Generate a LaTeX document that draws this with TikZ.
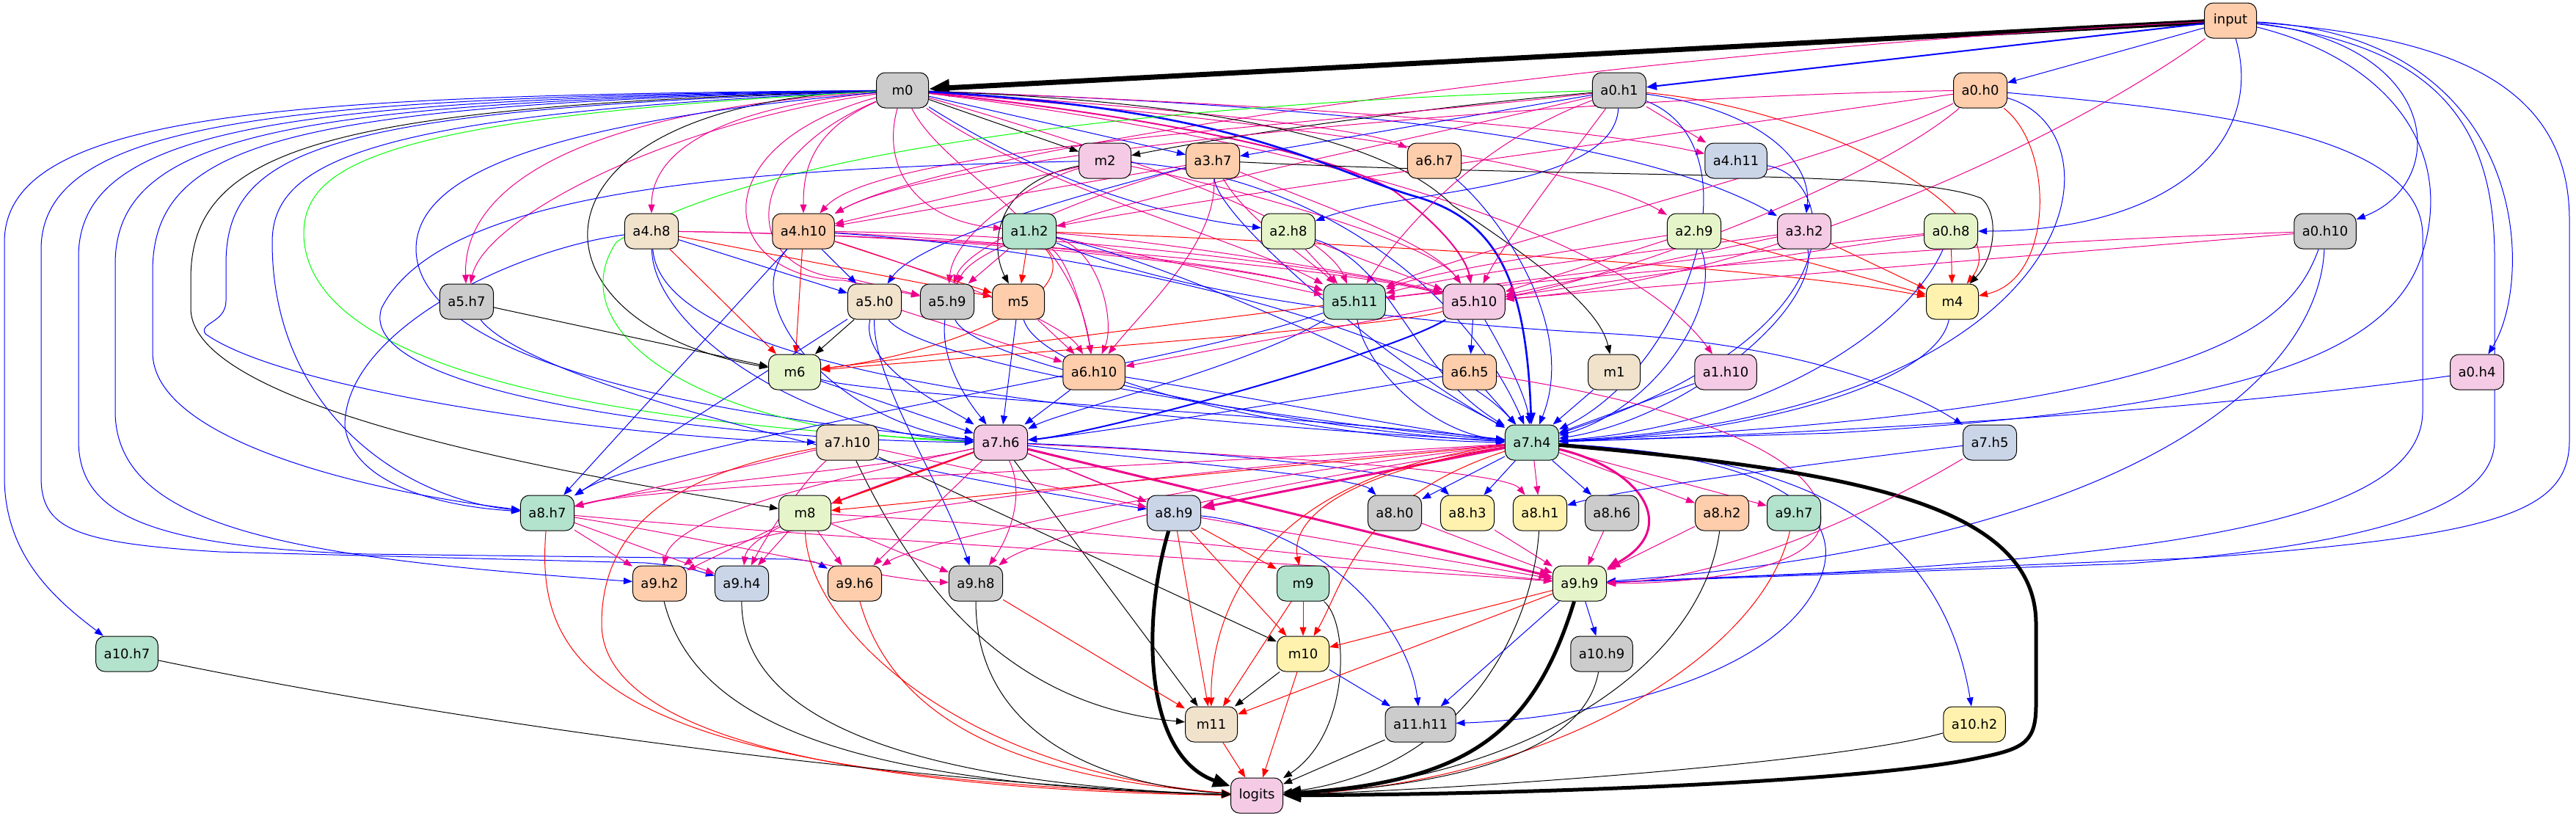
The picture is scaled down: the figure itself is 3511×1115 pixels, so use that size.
\documentclass[tikz,border=0pt]{standalone}
\usepackage{fontspec}
\setmainfont{DejaVu Sans}
\usetikzlibrary{arrows.meta}
\definecolor{cgray}{HTML}{CCCCCC}
\definecolor{cpeach}{HTML}{FDCDAC}
\definecolor{cmint}{HTML}{B3E2CD}
\definecolor{cblue}{HTML}{CBD5E8}
\definecolor{cpink}{HTML}{F4CAE4}
\definecolor{cgreen}{HTML}{E6F5C9}
\definecolor{cyellow}{HTML}{FFF2AE}
\definecolor{cbeige}{HTML}{F1E2CC}
\pgfdeclarelayer{bg}
\pgfsetlayers{bg,main}
\tikzset{
  nd/.style={draw=black, line width=0.5pt, rounded corners=6pt, minimum width=35.5pt, minimum height=24pt, inner xsep=5.5pt, inner ysep=0pt, font=\fontsize{9pt}{10pt}\selectfont},
  ar/.style={line width=0.5pt, -{Triangle[length=6pt,width=4.5pt]}},
  bl/.style={ar, blue},
  mg/.style={ar, magenta},
  rd/.style={ar, red},
  bk/.style={ar, black},
  gr/.style={ar, green},
  tk/.style={line width=2.5pt, -{Triangle[length=12pt,width=9pt]}},
  tm/.style={line width=1.5pt, -{Triangle[length=9pt,width=7pt]}},
  tone/.style={line width=1pt, -{Triangle[length=7pt,width=5.5pt]}}
}
\newcommand\mynode[5]{\node[nd,fill=#4] (#1) at (#2,#3) {#5};}
\begin{document}
\begin{tikzpicture}[x=0.5pt,y=-0.5pt]
\useasboundingbox (0,0) rectangle (3511,1115);
\mynode{input}{3040}{28}{cpeach}{input}
\mynode{m0}{1230}{123}{cgray}{m0}
\mynode{a0h1}{2207}{123}{cgray}{a0.h1}
\mynode{a0h0}{2699}{123}{cpeach}{a0.h0}
\mynode{m2}{1506}{219}{cpink}{m2}
\mynode{a3h7}{1653}{219}{cpeach}{a3.h7}
\mynode{a6h7}{1955}{219}{cpeach}{a6.h7}
\mynode{a4h11}{2366}{219}{cblue}{a4.h11}
\mynode{a4h8}{888}{315}{cbeige}{a4.h8}
\mynode{a4h10}{1095}{315}{cpeach}{a4.h10}
\mynode{a1h2}{1403}{315}{cmint}{a1.h2}
\mynode{a2h8}{1756}{315}{cgreen}{a2.h8}
\mynode{a2h9}{2309}{315}{cgreen}{a2.h9}
\mynode{a3h2}{2459}{315}{cpink}{a3.h2}
\mynode{a0h8}{2659}{315}{cgreen}{a0.h8}
\mynode{a0h10}{3169}{315}{cgray}{a0.h10}
\mynode{a5h7}{636}{411}{cgray}{a5.h7}
\mynode{a5h0}{1192}{411}{cbeige}{a5.h0}
\mynode{a5h9}{1291}{411}{cgray}{a5.h9}
\mynode{m5}{1388}{411}{cpeach}{m5}
\mynode{a5h11}{1846}{411}{cmint}{a5.h11}
\mynode{a5h10}{2009}{411}{cpink}{a5.h10}
\mynode{m4}{2661}{411}{cyellow}{m4}
\mynode{m6}{1083}{507}{cgreen}{m6}
\mynode{a6h10}{1491}{507}{cpeach}{a6.h10}
\mynode{a6h5}{2003}{507}{cpeach}{a6.h5}
\mynode{m1}{2200}{507}{cbeige}{m1}
\mynode{a1h10}{2352}{507}{cpink}{a1.h10}
\mynode{a0h4}{3376}{507}{cpink}{a0.h4}
\mynode{a7h10}{1155}{603}{cbeige}{a7.h10}
\mynode{a7h6}{1364}{603}{cpink}{a7.h6}
\mynode{a7h4}{2088}{603}{cmint}{a7.h4}
\mynode{a7h5}{2712}{603}{cblue}{a7.h5}
\mynode{a8h7}{746}{699}{cmint}{a8.h7}
\mynode{m8}{1097}{699}{cgreen}{m8}
\mynode{a8h9}{1600}{699}{cblue}{a8.h9}
\mynode{a8h0}{1901}{699}{cgray}{a8.h0}
\mynode{a8h3}{2000}{699}{cyellow}{a8.h3}
\mynode{a8h1}{2099}{699}{cyellow}{a8.h1}
\mynode{a8h6}{2197}{699}{cgray}{a8.h6}
\mynode{a8h2}{2347}{699}{cpeach}{a8.h2}
\mynode{a9h7}{2445}{699}{cmint}{a9.h7}
\mynode{a9h2}{899}{795}{cpeach}{a9.h2}
\mynode{a9h4}{1011}{795}{cblue}{a9.h4}
\mynode{a9h6}{1165}{795}{cpeach}{a9.h6}
\mynode{a9h8}{1330}{795}{cgray}{a9.h8}
\mynode{m9}{1776}{795}{cmint}{m9}
\mynode{a9h9}{2153}{795}{cgreen}{a9.h9}
\mynode{a10h7}{173}{891}{cmint}{a10.h7}
\mynode{m10}{1776}{891}{cyellow}{m10}
\mynode{a10h9}{2183}{891}{cgray}{a10.h9}
\mynode{m11}{1651}{987}{cbeige}{m11}
\mynode{a11h11}{1936}{987}{cgray}{a11.h11}
\mynode{a10h2}{2691}{987}{cyellow}{a10.h2}
\mynode{logits}{1713}{1084}{cpink}{logits}

\begin{pgfonlayer}{bg}
% input
\draw[bk,line width=3.5pt,-{Triangle[length=14pt,width=11pt]}] (input) -- (m0);
\draw[bl,tone] (input) -- (a0h1);
\draw[bl] (input) -- (a0h0);
\draw[bl] (input) .. controls (3090,200) and (2950,315) .. (a0h8);
\draw[bl] (input) .. controls (3330,60) and (3340,250) .. (a0h10);
\draw[bl] (input) .. controls (3450,50) and (3455,380) .. (a0h4);
\draw[bl] (input) .. controls (3350,50) and (3502,120) .. (3502,300) -- (3502,600) .. controls (3502,700) and (3400,730) .. (3000,760) -- (a9h9);
\draw[bl] (input) .. controls (3300,60) and (3400,150) .. (3400,350) -- (3400,600) .. controls (3400,700) and (3200,745) .. (2900,768) -- (a9h9);
\draw[bl] (input) .. controls (3250,80) and (3350,200) .. (3300,350) .. controls (3250,500) and (3000,560) .. (2500,590) -- (a7h4);
\draw[mg] (input) .. controls (2800,200) and (2400,380) .. (a5h10);
\draw[mg] (input) .. controls (2200,70) and (1300,200) .. (a4h10);
% m0
\draw[bk] (m0) -- (m2);
\draw[bl] (m0) -- (a3h7);
\draw[bl] (m0) .. controls (1400,230) and (1550,290) .. (a2h8);
\draw[bl] (m0) .. controls (1700,140) and (2200,170) .. (a3h2);
\draw[mg] (m0) .. controls (1500,140) and (1850,170) .. (a6h7);
\draw[mg] (m0) .. controls (1700,140) and (2150,170) .. (a4h11);
\draw[mg] (m0) .. controls (950,150) and (888,220) .. (a4h8);
\draw[mg] (m0) .. controls (1100,180) and (1095,240) .. (a4h10);
\draw[mg] (m0) .. controls (1200,230) and (1250,300) .. (a1h2);
\draw[mg] (m0) .. controls (1700,160) and (2150,220) .. (a2h9);
\draw[mg] (m0) .. controls (800,150) and (630,250) .. (a5h7);
\draw[mg] (m0) .. controls (900,170) and (660,300) .. (a5h7);
\draw[mg] (m0) .. controls (950,200) and (980,380) .. (1150,382) -- (a5h9);
\draw[mg] (m0) .. controls (1000,220) and (1010,375) .. (1160,380) -- (a5h9);
\draw[mg,line width=1pt] (m0) .. controls (1500,150) and (1800,200) .. (1900,260) .. controls (1980,320) and (2000,360) .. (a5h10);
\draw[mg] (m0) .. controls (1500,200) and (1800,300) .. (a5h11);
\draw[mg] (m0) .. controls (1400,250) and (1700,330) .. (a5h11);
\draw[mg] (m0) .. controls (1290,240) and (1460,300) .. (a6h10);
\draw[mg] (m0) .. controls (1700,180) and (2200,300) .. (a1h10);
\draw[bk] (m0) .. controls (700,140) and (700,440) .. (m6);
\draw[bk] (m0) .. controls (1700,140) and (1900,200) .. (1980,280) .. controls (2100,360) and (2180,420) .. (m1);
\draw[bl,line width=1.3pt,-{Triangle[length=8pt,width=6pt]}] (m0) .. controls (1700,150) and (1800,230) .. (1930,268) .. controls (2040,300) and (2080,380) .. (a7h4);
\draw[bl] (m0) .. controls (400,130) and (6,150) .. (6,330) -- (6,650) .. controls (6,760) and (80,820) .. (a10h7);
\draw[bl] (m0) .. controls (400,133) and (56,160) .. (56,340) -- (56,650) .. controls (56,720) and (100,740) .. (300,752) -- (880,767) .. controls (930,772) .. (a9h4);
\draw[bl] (m0) .. controls (400,136) and (107,170) .. (107,350) -- (107,600) .. controls (107,700) and (200,745) .. (500,755) -- (1080,762) .. controls (1110,765) .. (a9h6);
\draw[bl] (m0) .. controls (400,139) and (157,180) .. (157,360) -- (157,560) .. controls (157,720) and (400,760) .. (a9h2);
\draw[bl] (m0) .. controls (400,142) and (208,190) .. (208,370) -- (208,480) .. controls (208,600) and (500,670) .. (a8h7);
\draw[bk] (m0) .. controls (450,145) and (260,200) .. (260,380) -- (260,420) .. controls (260,560) and (800,650) .. (m8);
\draw[bl] (m0) .. controls (450,150) and (308,200) .. (308,360) -- (308,410) .. controls (308,440) and (270,440) .. (280,455) .. controls (400,540) and (900,600) .. (a7h10);
\draw[bl] (m0) .. controls (500,155) and (371,220) .. (371,330) .. controls (371,560) and (550,680) .. (a8h7);
\draw[gr] (m0) .. controls (500,160) and (414,230) .. (414,320) .. controls (420,520) and (900,580) .. (a7h6);
\draw[bl] (m0) .. controls (700,170) and (567,250) .. (567,340) .. controls (570,500) and (1000,570) .. (a7h6);
% a0.h1
\draw[bk] (a0h1) .. controls (1900,150) and (1650,190) .. (m2);
\draw[bl] (a0h1) -- (a3h7);
\draw[bl] (a0h1) .. controls (2200,260) and (1900,260) .. (a2h8);
\draw[bl] (a0h1) .. controls (2400,150) and (2470,220) .. (a3h2);
\draw[mg] (a0h1) -- (a4h11);
\draw[mg] (a0h1) .. controls (1800,170) and (1200,200) .. (a4h10);
\draw[mg] (a0h1) .. controls (2000,200) and (1900,330) .. (a5h11);
\draw[mg] (a0h1) .. controls (2150,200) and (2050,330) .. (a5h10);
\draw[bl] (a0h1) .. controls (2400,200) and (2300,500) .. (a7h4);
\draw[rd] (a0h1) .. controls (2500,150) and (2750,300) .. (m4);
\draw[mg] (a0h1) .. controls (1800,220) and (1350,300) .. (a5h9);
\draw[gr] (a0h1) .. controls (1700,135) and (1050,190) .. (840,330) .. controls (760,450) and (950,590) .. (a7h6);
% a0.h0
\draw[mg] (a0h0) .. controls (2200,130) and (1300,200) .. (a4h10);
\draw[mg] (a0h0) .. controls (2300,180) and (1700,260) .. (a1h2);
\draw[mg] (a0h0) .. controls (2550,250) and (2200,380) .. (a5h10);
\draw[mg] (a0h0) .. controls (2500,220) and (2000,340) .. (a5h11);
\draw[rd] (a0h0) .. controls (2800,200) and (2800,380) .. (m4);
\draw[bl] (a0h0) .. controls (2900,180) and (2850,560) .. (a7h4);
\draw[bl] (a0h0) .. controls (3000,150) and (3300,180) .. (3302,320) -- (3302,560) .. controls (3302,700) and (3000,750) .. (2500,780) -- (a9h9);
% m2
\draw[bk] (m2) .. controls (1350,250) and (1350,340) .. (m5);
\draw[mg] (m2) .. controls (1400,250) and (1300,320) .. (a5h9);
\draw[mg] (m2) .. controls (1700,260) and (1950,330) .. (a5h10);
\draw[mg] (m2) -- (a4h10);
\draw[bl] (m2) .. controls (1800,240) and (2000,400) .. (a7h4);
\draw[bl] (m2) .. controls (1000,230) and (600,260) .. (520,420) .. controls (480,540) and (1000,600) .. (a7h6);
% a3.h7
\draw[bl] (a3h7) .. controls (1450,270) and (1250,330) .. (a5h0);
\draw[bk] (a3h7) .. controls (2200,245) and (2600,230) .. (2700,270) .. controls (2725,290) and (2720,350) .. (m4);
\draw[mg] (a3h7) .. controls (1700,300) and (1780,350) .. (a5h11);
\draw[mg] (a3h7) .. controls (1800,280) and (1950,330) .. (a5h10);
\draw[mg] (a3h7) .. controls (1500,260) and (1320,330) .. (a5h9);
\draw[mg] (a3h7) -- (a4h10);
\draw[bl] (a3h7) .. controls (1660,300) and (1900,500) .. (a7h4);
\draw[mg] (a3h7) .. controls (1660,330) and (1560,420) .. (a6h10);
% row 2 others
\draw[bl] (a6h7) .. controls (2050,300) and (2150,450) .. (a7h4);
\draw[bl] (a4h11) .. controls (2500,240) and (2550,450) .. (a7h4);
% a4.h8
\draw[bl] (a4h8) -- (a5h0);
\draw[rd] (a4h8) -- (m5);
\draw[rd] (a4h8) -- (m6);
\draw[mg] (a4h8) .. controls (1300,320) and (1700,360) .. (a5h11);
\draw[mg] (a4h8) .. controls (1300,320) and (1800,360) .. (a5h10);
\draw[bl] (a4h8) .. controls (890,450) and (1100,590) .. (a7h6);
\draw[bl] (a4h8) .. controls (900,480) and (1300,560) .. (a7h4);
\draw[bl] (a4h8) .. controls (700,340) and (470,450) .. (470,580) .. controls (480,660) and (600,690) .. (a8h7);
% a4.h10
\draw[bl] (a4h10) -- (a5h0);
\draw[rd] (a4h10) -- (m5);
\draw[rd] (a4h10) -- (m6);
\draw[mg] (a4h10) .. controls (1400,330) and (1700,360) .. (a5h11);
\draw[mg] (a4h10) .. controls (1500,320) and (1850,370) .. (a5h10);
\draw[mg] (a4h10) .. controls (1300,380) and (1450,440) .. (a6h10);
\draw[bl] (a4h10) .. controls (1000,420) and (1150,580) .. (a7h6);
\draw[bl] (a4h10) .. controls (1500,340) and (1950,450) .. (a7h4);
\draw[bl] (a4h10) -- (a8h7);
% a1.h2
\draw[rd] (a1h2) -- (m5);
\draw[mg] (a1h2) -- (a5h9);
\draw[mg] (a1h2) .. controls (1460,360) and (1480,440) .. (a6h10);
\draw[mg] (a1h2) .. controls (1500,340) and (1520,440) .. (a6h10);
\draw[mg] (a1h2) -- (a5h11);
\draw[mg] (a1h2) .. controls (1600,330) and (1900,380) .. (a5h10);
\draw[rd] (a1h2) .. controls (1480,400) and (1300,480) .. (m6);
\draw[rd] (a1h2) .. controls (1800,330) and (2400,360) .. (m4);
\draw[bl] (a1h2) .. controls (1600,360) and (1900,500) .. (a7h4);
\draw[bl] (a1h2) .. controls (1600,400) and (1900,440) .. (2200,455) .. controls (2450,470) and (2600,530) .. (a7h5);
% row 3 others
\draw[mg] (a2h8) -- (a5h11);
\draw[mg] (a2h8) -- (a5h10);
\draw[bl] (a2h8) .. controls (1900,360) and (1920,500) .. (a7h4);
\draw[mg] (a2h9) .. controls (2150,340) and (1950,370) .. (a5h11);
\draw[mg] (a2h9) -- (a5h10);
\draw[rd] (a2h9) -- (m4);
\draw[bl] (a2h9) .. controls (2350,420) and (2250,560) .. (a7h4);
\draw[mg] (a3h2) .. controls (2200,350) and (2000,370) .. (a5h11);
\draw[mg] (a3h2) -- (a5h10);
\draw[rd] (a3h2) -- (m4);
\draw[bl] (a3h2) .. controls (2480,420) and (2300,570) .. (a7h4);
\draw[rd] (a0h8) -- (m4);
\draw[mg] (a0h8) -- (a5h10);
\draw[mg] (a0h8) .. controls (2400,340) and (2100,380) .. (a5h11);
\draw[bl] (a0h8) .. controls (2600,450) and (2400,580) .. (a7h4);
\draw[mg] (a0h10) -- (a5h10);
\draw[mg] (a0h10) .. controls (2700,330) and (2200,370) .. (a5h11);
\draw[bl] (a0h10) .. controls (3120,450) and (3000,560) .. (a7h4);
\draw[bl] (a0h10) .. controls (3160,520) and (2900,740) .. (a9h9);
\draw[bl] (a0h4) .. controls (3000,560) and (2500,590) .. (a7h4);
% row 4
\draw[bk] (a5h7) -- (m6);
\draw[bl] (a5h7) .. controls (720,520) and (1200,640) .. (a8h9);
\draw[bk] (a5h0) -- (m6);
\draw[mg] (a5h0) -- (a6h10);
\draw[bl] (a5h0) .. controls (1170,500) and (1300,560) .. (a7h6);
\draw[bl] (a5h0) .. controls (1260,500) and (1800,580) .. (a7h4);
\draw[bl] (a5h0) -- (a8h7);
\draw[bl] (a5h0) .. controls (1190,520) and (1280,650) .. (a9h8);
\draw[bl] (a5h9) .. controls (1280,500) and (1330,560) .. (a7h6);
\draw[bl] (a5h9) .. controls (1330,500) and (1800,590) .. (a7h4);
\draw[bl] (m5) -- (a7h6);
\draw[mg] (m5) -- (a6h10);
\draw[bl] (m5) .. controls (1420,520) and (1800,600) .. (a7h4);
\draw[rd] (a5h11) -- (m6);
\draw[bl] (a5h11) .. controls (1700,500) and (1450,560) .. (a7h6);
\draw[bl] (a5h11) .. controls (1860,500) and (1950,590) .. (a7h4);
\draw[bl] (a5h11) .. controls (1600,500) and (900,600) .. (a8h7);
\draw[bl] (a5h10) -- (a6h5);
\draw[rd] (a5h10) .. controls (1900,445) and (1400,480) .. (m6);
\draw[mg] (a5h10) -- (a6h10);
\draw[bl,line width=1pt] (a5h10) .. controls (1900,480) and (1500,590) .. (a7h6);
\draw[bl] (a5h10) .. controls (2050,480) and (2080,540) .. (a7h4);
\draw[bl] (m4) .. controls (2640,520) and (2400,590) .. (a7h4);
% row 5
\draw[bl] (m6) -- (a7h6);
\draw[bl] (m6) .. controls (1200,540) and (1700,560) .. (a7h4);
\draw[bl] (a6h10) -- (a7h6);
\draw[bl] (a6h10) .. controls (1700,540) and (1950,590) .. (a7h4);
\draw[bl] (a6h5) -- (a7h4);
\draw[bl] (a6h5) .. controls (1800,540) and (1500,590) .. (a7h6);
\draw[mg] (a6h5) .. controls (2350,560) and (2500,640) .. (2480,720) .. controls (2460,780) and (2300,795) .. (a9h9);
\draw[bl] (m1) -- (a7h4);
\draw[bl] (a1h10) -- (a7h4);
% a7.h10
\draw[mg] (a7h10) -- (a8h7);
\draw[bk] (a7h10) -- (m10);
\draw[bk] (a7h10) .. controls (1230,760) and (1350,960) .. (m11);
\draw[mg] (a7h10) -- (a8h9);
\draw[mg] (a7h10) .. controls (1100,650) and (1050,720) .. (a9h4);
\draw[rd] (a7h10) .. controls (950,640) and (820,700) .. (820,850) .. controls (820,1050) and (1400,1080) .. (logits);
% a7.h6
\draw[rd,tone] (a7h6) -- (m8);
\draw[mg,line width=0.8pt] (a7h6) -- (a8h9);
\draw[mg,tm] (a7h6) -- (a9h9);
\draw[mg] (a7h6) .. controls (1200,640) and (900,660) .. (a8h7);
\draw[mg] (a7h6) .. controls (1150,650) and (920,700) .. (a9h2);
\draw[mg] (a7h6) .. controls (1200,660) and (1020,720) .. (a9h4);
\draw[mg] (a7h6) -- (a9h6);
\draw[mg] (a7h6) .. controls (1400,680) and (1370,740) .. (a9h8);
\draw[bk] (a7h6) -- (m11);
\draw[bl] (a7h6) .. controls (1600,630) and (1850,650) .. (a8h0);
\draw[mg] (a7h6) .. controls (1700,620) and (2050,640) .. (a8h1);
\draw[bl] (a7h6) .. controls (1700,615) and (1950,650) .. (a8h3);
% a7.h4
\draw[bl] (a7h4) -- (a8h0);
\draw[bl] (a7h4) -- (a8h3);
\draw[mg] (a7h4) -- (a8h1);
\draw[bl] (a7h4) -- (a8h6);
\draw[mg] (a7h4) -- (a8h2);
\draw[mg] (a7h4) -- (a9h7);
\draw[mg,tm] (a7h4) .. controls (2240,640) and (2290,720) .. (a9h9);
\draw[mg,tm] (a7h4) -- (a8h9);
\draw[rd] (a7h4) -- (m8);
\draw[rd] (a7h4) .. controls (1800,650) and (1760,720) .. (m9);
\draw[rd] (a7h4) .. controls (1850,680) and (1830,800) .. (m10);
\draw[rd] (a7h4) .. controls (1700,650) and (1650,850) .. (m11);
\draw[mg] (a7h4) .. controls (1500,640) and (900,660) .. (a8h7);
\draw[mg] (a7h4) .. controls (1600,680) and (1400,740) .. (a9h8);
\draw[mg] (a7h4) .. controls (1600,660) and (1250,740) .. (a9h6);
\draw[mg] (a7h4) .. controls (1500,650) and (1000,720) .. (a9h2);
\draw[bl] (a7h4) .. controls (2400,620) and (2640,680) .. (a10h2);
\draw[bl] (a7h4) .. controls (2420,620) and (2520,700) .. (2480,790) .. controls (2420,930) and (2150,980) .. (a11h11);
\draw[bk,tk] (a7h4) .. controls (2500,640) and (2775,680) .. (2775,850) -- (2775,960) .. controls (2775,1010) and (2760,1020) .. (2700,1032) .. controls (2550,1065) and (2100,1082) .. (logits);
% a7.h5
\draw[bl] (a7h5) .. controls (2400,640) and (2200,670) .. (a8h1);
\draw[mg] (a7h5) .. controls (2550,700) and (2350,790) .. (a9h9);
% row 7
\draw[mg] (a8h7) -- (a9h2);
\draw[mg] (a8h7) -- (a9h4);
\draw[mg] (a8h7) .. controls (1000,740) and (1200,790) .. (a9h8);
\draw[mg] (a8h7) .. controls (1200,740) and (1900,775) .. (a9h9);
\draw[rd] (a8h7) .. controls (730,900) and (800,1060) .. (logits);
\draw[mg] (m8) -- (a9h2);
\draw[mg] (m8) -- (a9h4);
\draw[mg] (m8) -- (a9h6);
\draw[mg] (m8) -- (a9h8);
\draw[mg] (m8) .. controls (1500,720) and (1900,770) .. (a9h9);
\draw[rd] (m8) .. controls (1100,850) and (1300,1050) .. (logits);
\draw[rd] (a8h9) -- (m9);
\draw[rd] (a8h9) -- (m10);
\draw[rd] (a8h9) -- (m11);
\draw[mg] (a8h9) -- (a9h9);
\draw[bl] (a8h9) .. controls (1800,720) and (1920,850) .. (a11h11);
\draw[bk,tk] (a8h9) .. controls (1555,850) and (1560,1030) .. (logits);
\draw[mg] (a8h0) -- (a9h9);
\draw[mg] (a8h3) -- (a9h9);
\draw[mg] (a8h6) -- (a9h9);
\draw[mg] (a8h2) -- (a9h9);
\draw[bk] (a8h1) .. controls (2090,850) and (2000,1050) .. (logits);
\draw[bk] (a8h2) .. controls (2320,900) and (2100,1060) .. (logits);
\draw[rd] (a9h7) .. controls (2400,900) and (2100,1070) .. (logits);
% row 8
\draw[bk] (a9h2) .. controls (950,1000) and (1200,1070) .. (logits);
\draw[bk] (a9h4) .. controls (1010,1000) and (1300,1070) .. (logits);
\draw[rd] (a9h6) .. controls (1220,990) and (1400,1060) .. (logits);
\draw[bk] (a9h8) .. controls (1330,1000) and (1500,1070) .. (logits);
\draw[rd] (a9h8) -- (m11);
\draw[rd] (m9) -- (m10);
\draw[rd] (m9) -- (m11);
\draw[bk] (m9) .. controls (1840,850) and (1840,1000) .. (logits);
\draw[rd] (a9h9) -- (m10);
\draw[rd] (a9h9) -- (m11);
\draw[bl] (a9h9) -- (a10h9);
\draw[bl] (a9h9) -- (a11h11);
\draw[bk,tk] (a9h9) .. controls (2090,1000) and (2000,1065) .. (logits);
% rows 9-10
\draw[bk] (a10h7) .. controls (700,1000) and (1300,1070) .. (logits);
\draw[bk] (m10) -- (m11);
\draw[bl] (m10) -- (a11h11);
\draw[rd] (m10) -- (logits);
\draw[bk] (a10h9) .. controls (2160,1020) and (2000,1070) .. (logits);
\draw[rd] (m11) -- (logits);
\draw[bk] (a11h11) -- (logits);
\draw[bk] (a10h2) .. controls (2500,1040) and (2000,1075) .. (logits);
\end{pgfonlayer}
\end{tikzpicture}
\end{document}
